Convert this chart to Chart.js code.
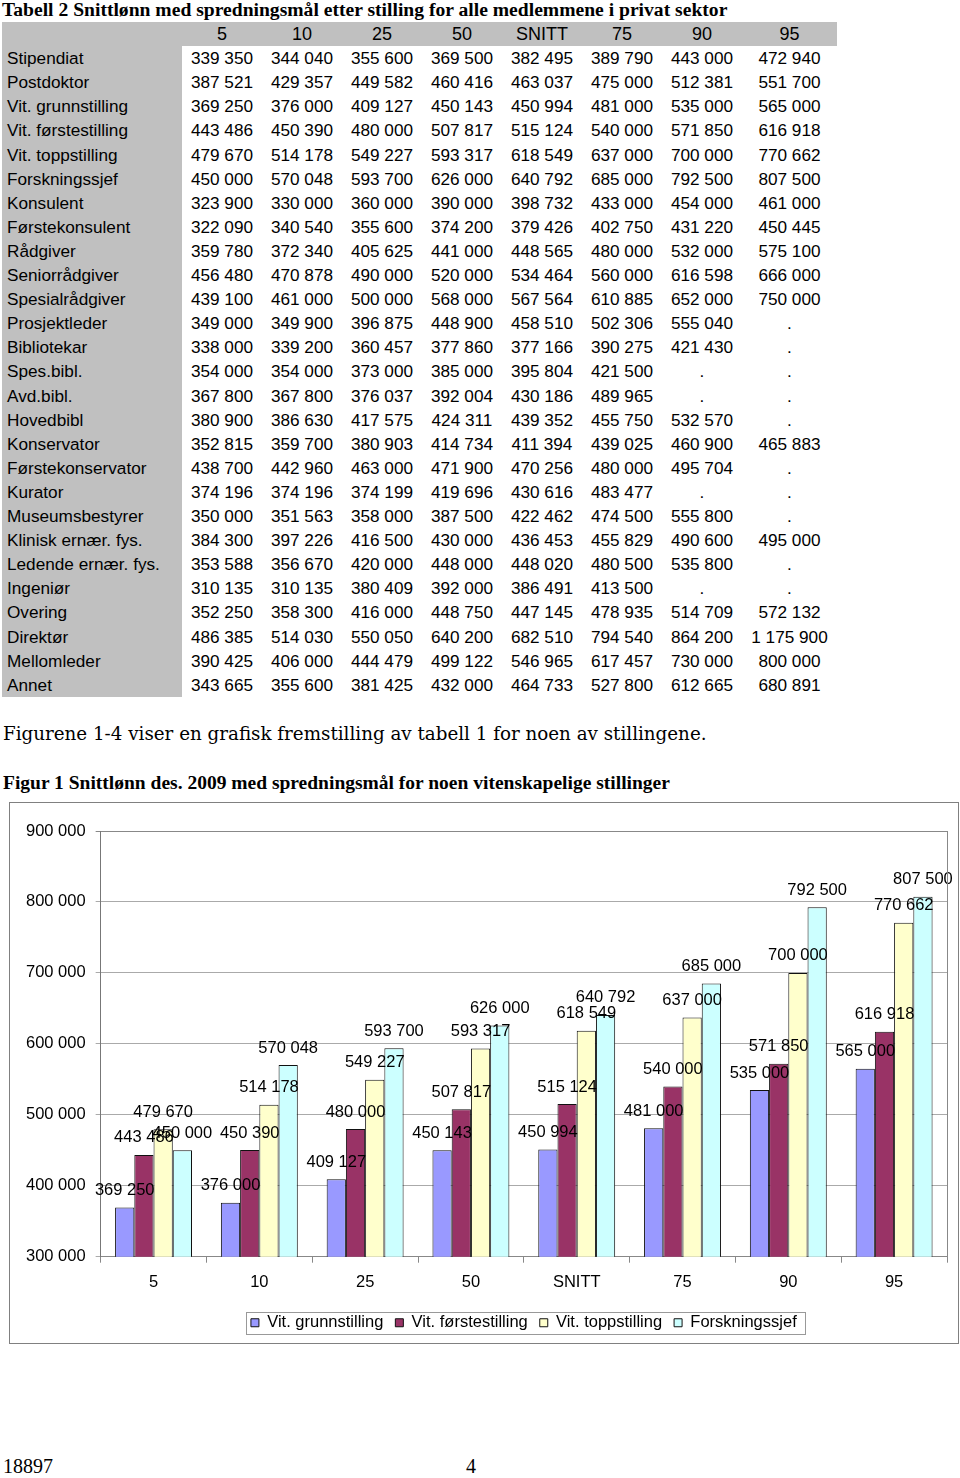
<!DOCTYPE html>
<html>
<head>
<meta charset="utf-8">
<script src="https://cdn.jsdelivr.net/npm/chart.js@4.4.1/dist/chart.umd.min.js"></script>
<style>
  body { margin: 0; background: #fff; width: 960px; height: 1478px; position: relative; overflow: hidden; }
  .title { position: absolute; left: 2px; top: -1px; font: bold 19.6px "Liberation Serif", "Times New Roman", serif; white-space: nowrap; }
  .cell { position: absolute; height: 24.1px; line-height: 24.1px; font: 17.2px "Liberation Sans", Arial, sans-serif; white-space: nowrap; color: #000; }
  .grey { background: #c0c0c0; }
  .para { position: absolute; left: 3px; top: 723px; font: 18.3px "DejaVu Serif", Georgia, serif; white-space: nowrap; }
  .fig { position: absolute; left: 3px; top: 772px; font: bold 19.5px "Liberation Serif", "Times New Roman", serif; white-space: nowrap; }
  .chartbox { position: absolute; left: 9px; top: 802px; width: 948px; height: 540px; border: 1px solid #808080; }
  .foot { position: absolute; top: 1455px; font: 20px "Liberation Serif", "Times New Roman", serif; }
</style>
</head>
<body>
<div class="title">Tabell 2 Snittlønn med spredningsmål etter stilling for alle medlemmene i privat sektor</div>
<div id="table"></div>
<div class="para">Figurene 1-4 viser en grafisk fremstilling av tabell 1 for noen av stillingene.</div>
<div class="fig">Figur 1 Snittlønn des. 2009 med spredningsmål for noen vitenskapelige stillinger</div>
<div class="chartbox"><canvas id="myChart" width="948" height="540"></canvas></div>
<div class="foot" style="left:3px">18897</div>
<div class="foot" style="left:466px">4</div>
<script>
// chart data
var categories = ["5", "10", "25", "50", "SNITT", "75", "90", "95"];
var grunnstilling = [369250, 376000, 409127, 450143, 450994, 481000, 535000, 565000];
var forstestilling = [443486, 450390, 480000, 507817, 515124, 540000, 571850, 616918];
var toppstilling = [479670, 514178, 549227, 593317, 618549, 637000, 700000, 770662];
var forskningssjef = [450000, 570048, 593700, 626000, 640792, 685000, 792500, 807500];

// table rows
var tableRows = [
  ["Stipendiat", "339 350", "344 040", "355 600", "369 500", "382 495", "389 790", "443 000", "472 940"],
  ["Postdoktor", "387 521", "429 357", "449 582", "460 416", "463 037", "475 000", "512 381", "551 700"],
  ["Vit. grunnstilling", "369 250", "376 000", "409 127", "450 143", "450 994", "481 000", "535 000", "565 000"],
  ["Vit. førstestilling", "443 486", "450 390", "480 000", "507 817", "515 124", "540 000", "571 850", "616 918"],
  ["Vit. toppstilling", "479 670", "514 178", "549 227", "593 317", "618 549", "637 000", "700 000", "770 662"],
  ["Forskningssjef", "450 000", "570 048", "593 700", "626 000", "640 792", "685 000", "792 500", "807 500"],
  ["Konsulent", "323 900", "330 000", "360 000", "390 000", "398 732", "433 000", "454 000", "461 000"],
  ["Førstekonsulent", "322 090", "340 540", "355 600", "374 200", "379 426", "402 750", "431 220", "450 445"],
  ["Rådgiver", "359 780", "372 340", "405 625", "441 000", "448 565", "480 000", "532 000", "575 100"],
  ["Seniorrådgiver", "456 480", "470 878", "490 000", "520 000", "534 464", "560 000", "616 598", "666 000"],
  ["Spesialrådgiver", "439 100", "461 000", "500 000", "568 000", "567 564", "610 885", "652 000", "750 000"],
  ["Prosjektleder", "349 000", "349 900", "396 875", "448 900", "458 510", "502 306", "555 040", "."],
  ["Bibliotekar", "338 000", "339 200", "360 457", "377 860", "377 166", "390 275", "421 430", "."],
  ["Spes.bibl.", "354 000", "354 000", "373 000", "385 000", "395 804", "421 500", ".", "."],
  ["Avd.bibl.", "367 800", "367 800", "376 037", "392 004", "430 186", "489 965", ".", "."],
  ["Hovedbibl", "380 900", "386 630", "417 575", "424 311", "439 352", "455 750", "532 570", "."],
  ["Konservator", "352 815", "359 700", "380 903", "414 734", "411 394", "439 025", "460 900", "465 883"],
  ["Førstekonservator", "438 700", "442 960", "463 000", "471 900", "470 256", "480 000", "495 704", "."],
  ["Kurator", "374 196", "374 196", "374 199", "419 696", "430 616", "483 477", ".", "."],
  ["Museumsbestyrer", "350 000", "351 563", "358 000", "387 500", "422 462", "474 500", "555 800", "."],
  ["Klinisk ernær. fys.", "384 300", "397 226", "416 500", "430 000", "436 453", "455 829", "490 600", "495 000"],
  ["Ledende ernær. fys.", "353 588", "356 670", "420 000", "448 000", "448 020", "480 500", "535 800", "."],
  ["Ingeniør", "310 135", "310 135", "380 409", "392 000", "386 491", "413 500", ".", "."],
  ["Overing", "352 250", "358 300", "416 000", "448 750", "447 145", "478 935", "514 709", "572 132"],
  ["Direktør", "486 385", "514 030", "550 050", "640 200", "682 510", "794 540", "864 200", "1 175 900"],
  ["Mellomleder", "390 425", "406 000", "444 479", "499 122", "546 965", "617 457", "730 000", "800 000"],
  ["Annet", "343 665", "355 600", "381 425", "432 000", "464 733", "527 800", "612 665", "680 891"]
];

// build the table
var tbl = document.getElementById("table");
var colLeft = [182, 262, 342, 422, 502, 582, 662, 742];
var colWidth = [80, 80, 80, 80, 80, 80, 80, 95];
var rowH = 24.1, top0 = 22, textShift = 2;
function cell(text, left, top, width, cls, extra) {
  var d = document.createElement("div");
  d.className = "cell " + (cls || "");
  d.style.left = left + "px";
  d.style.top = top + "px";
  d.style.width = width + "px";
  d.textContent = text;
  if (extra) d.style.cssText += extra;
  tbl.appendChild(d);
}
// grey backgrounds
cell("", 2, top0, 835, "grey");
cell("", 2, top0 + rowH, 180, "grey", "height:" + (rowH * tableRows.length) + "px;");
// header
categories.forEach(function (c, i) {
  cell(c, colLeft[i], top0 + textShift, colWidth[i], "", "text-align:center;font-size:18px;");
});
tableRows.forEach(function (row, r) {
  var t = top0 + textShift + rowH * (r + 1);
  cell(row[0], 2, t, 180, "", "padding-left:5px;box-sizing:border-box;");
  for (var i = 1; i < row.length; i++) {
    cell(row[i], colLeft[i - 1], t, colWidth[i - 1], "", "text-align:center;");
  }
});

function fmt(n) {
  return n.toString().replace(/\B(?=(\d{3})+(?!\d))/g, " ");
}

var font = '"Liberation Sans", Arial, sans-serif';

// value labels above bars, plot frame and legend frame
var valueLabels = {
  id: "valueLabels",
  afterDatasetsDraw: function (chart) {
    var ctx = chart.ctx;
    ctx.save();
    ctx.font = "16.5px " + font;
    ctx.fillStyle = "#000";
    ctx.textAlign = "center";
    ctx.textBaseline = "middle";
    chart.data.datasets.forEach(function (ds, i) {
      chart.getDatasetMeta(i).data.forEach(function (bar, j) {
        ctx.fillText(fmt(ds.data[j]), bar.x, bar.y - 17);
      });
    });
    ctx.restore();
  },
  afterDraw: function (chart) {
    var ctx = chart.ctx, a = chart.chartArea;
    ctx.save();
    ctx.strokeStyle = "#888";
    ctx.lineWidth = 1;
    ctx.beginPath();
    ctx.moveTo(Math.round(a.right) + 0.5, a.top);
    ctx.lineTo(Math.round(a.right) + 0.5, a.bottom);
    ctx.stroke();
    var hb = chart.legend.legendHitBoxes;
    if (hb && hb.length) {
      var x0 = Infinity, x1 = -Infinity, y0 = Infinity, y1 = -Infinity;
      hb.forEach(function (b) {
        x0 = Math.min(x0, b.left); x1 = Math.max(x1, b.left + b.width);
        y0 = Math.min(y0, b.top); y1 = Math.max(y1, b.top + b.height);
      });
      ctx.strokeStyle = "#999";
      ctx.strokeRect(Math.round(x0 - 5) + 0.5, Math.round(y0 - 3) + 0.5, Math.round(x1 - x0 + 13), Math.round(y1 - y0 + 5));
    }
    ctx.restore();
  }
};

var ctx = document.getElementById("myChart").getContext("2d");
var myChart = new Chart(ctx, {
  type: "bar",
  data: {
    labels: categories,
    datasets: [
      { label: "Vit. grunnstilling", data: grunnstilling, backgroundColor: "#9999FF" },
      { label: "Vit. førstestilling", data: forstestilling, backgroundColor: "#993366" },
      { label: "Vit. toppstilling", data: toppstilling, backgroundColor: "#FFFFCC" },
      { label: "Forskningssjef", data: forskningssjef, backgroundColor: "#CCFFFF" }
    ]
  },
  options: {
    responsive: false,
    animation: false,
    devicePixelRatio: 1,
    layout: { padding: { top: 28, left: 6, right: 11, bottom: 2 } },
    datasets: {
      bar: { borderColor: "#111", borderWidth: 1, categoryPercentage: 0.727, barPercentage: 1 }
    },
    plugins: {
      legend: {
        position: "bottom",
        fullSize: false,
        labels: {
          color: "#000",
          font: { family: font, size: 16.5 },
          boxWidth: 8,
          boxHeight: 8,
          padding: 12
        }
      },
      tooltip: { enabled: false }
    },
    scales: {
      x: {
        grid: { drawOnChartArea: false, tickLength: 6, color: "#888" },
        border: { color: "#888" },
        ticks: { color: "#000", padding: 10, font: { family: font, size: 16.5 } }
      },
      y: {
        min: 300000,
        max: 900000,
        grid: {
          tickLength: 5,
          color: function (c) { return c.tick && c.tick.value === 900000 ? "#888" : "#aaa"; }
        },
        border: { color: "#777" },
        ticks: {
          stepSize: 100000,
          color: "#000",
          padding: 10,
          font: { family: font, size: 16.5 },
          callback: function (v) { return fmt(v); }
        }
      }
    }
  },
  plugins: [valueLabels]
});
</script>
</body>
</html>
